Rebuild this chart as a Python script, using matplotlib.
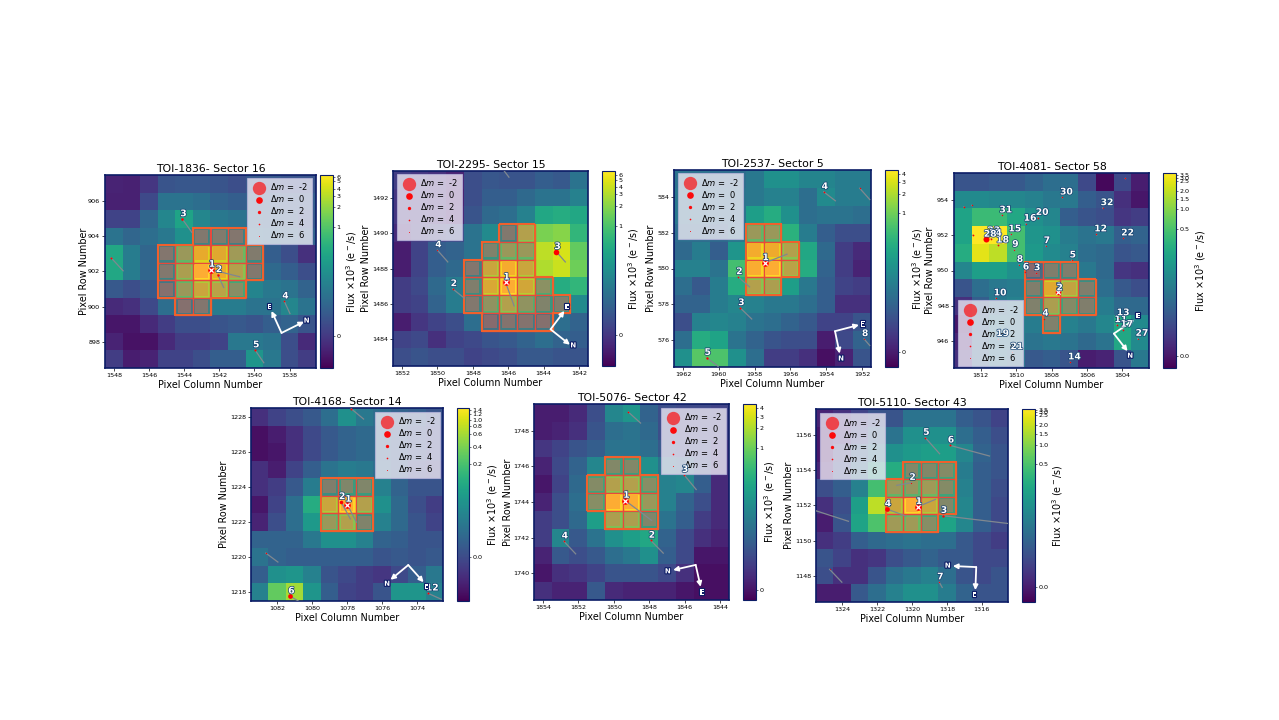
"""Seven TESS target pixel maps (tpfplotter style) on one slide."""
import matplotlib
matplotlib.use("Agg")
import matplotlib.patheffects as pe
import matplotlib.pyplot as plt
import numpy as np
from matplotlib.patches import Rectangle
from matplotlib.ticker import MultipleLocator

WIDTH, HEIGHT = 1279, 720
NAVY = "#0c1c66"
APERTURE_EDGE = "#f0602c"
APERTURE_GRID = "#e8483c"

# Pixel values are positions on the stretched colour scale (0-100), top row
# first, left column first. Ticks say where each flux label sits on that scale.
FLUX_1836 = [
    [10, 9, 16, 26, 27, 27, 26, 24, 28, 28, 26, 26],
    [9, 9, 22, 38, 38, 36, 32, 30, 32, 32, 30, 30],
    [20, 20, 33, 46, 58, 46, 40, 38, 36, 34, 32, 28],
    [38, 33, 36, 40, 50, 48, 50, 46, 40, 38, 36, 32],
    [60, 42, 33, 46, 72, 94, 92, 74, 50, 30, 24, 14],
    [60, 42, 33, 48, 78, 100, 96, 80, 48, 34, 30, 24],
    [28, 24, 28, 42, 72, 86, 82, 64, 45, 40, 38, 32],
    [12, 14, 22, 36, 42, 46, 42, 42, 38, 38, 46, 38],
    [6, 6, 12, 18, 24, 24, 26, 28, 26, 30, 32, 26],
    [10, 5, 5, 12, 18, 18, 20, 40, 40, 38, 24, 12],
    [18, 8, 10, 20, 20, 24, 30, 30, 52, 40, 24, 18],
]
FLUX_2295 = [
    [18, 16, 14, 10, 24, 27, 26, 26, 30, 28, 38],
    [16, 16, 14, 8, 24, 30, 30, 34, 38, 38, 44],
    [16, 16, 14, 10, 26, 34, 36, 44, 60, 62, 60],
    [12, 18, 22, 24, 38, 48, 48, 80, 80, 82, 66],
    [8, 20, 30, 32, 38, 55, 72, 72, 90, 94, 76],
    [8, 20, 30, 34, 46, 86, 98, 86, 88, 92, 78],
    [18, 22, 34, 42, 52, 90, 100, 88, 66, 62, 66],
    [18, 20, 32, 42, 48, 68, 80, 68, 56, 52, 48],
    [8, 16, 20, 24, 36, 38, 44, 44, 42, 36, 32],
    [20, 22, 14, 20, 22, 26, 28, 32, 36, 32, 30],
    [24, 26, 24, 24, 20, 22, 24, 28, 28, 26, 26],
]
FLUX_2537 = [
    [38, 38, 36, 36, 40, 50, 50, 45, 45, 42, 42],
    [40, 40, 38, 38, 40, 44, 44, 36, 48, 42, 42],
    [40, 40, 38, 38, 56, 62, 50, 36, 38, 38, 36],
    [36, 36, 34, 40, 72, 72, 64, 42, 30, 24, 24],
    [34, 42, 30, 52, 97, 96, 80, 60, 34, 18, 12],
    [44, 44, 38, 70, 99, 100, 82, 62, 32, 18, 10],
    [36, 28, 42, 62, 80, 78, 56, 40, 30, 20, 18],
    [32, 32, 42, 46, 44, 40, 40, 36, 30, 14, 14],
    [24, 44, 46, 44, 38, 36, 32, 28, 20, 20, 26],
    [36, 62, 58, 38, 32, 26, 24, 24, 8, 22, 32],
    [50, 74, 72, 50, 36, 18, 18, 14, 4, 10, 26],
]
FLUX_4081 = [
    [26, 26, 28, 28, 32, 36, 36, 22, 2, 22, 8],
    [48, 48, 46, 46, 44, 40, 40, 30, 26, 14, 6],
    [58, 68, 68, 60, 50, 46, 30, 26, 24, 16, 18],
    [58, 100, 100, 70, 52, 50, 42, 38, 40, 30, 32],
    [62, 96, 90, 70, 54, 48, 44, 36, 34, 26, 28],
    [46, 56, 56, 50, 36, 52, 52, 40, 34, 16, 14],
    [26, 36, 40, 42, 52, 92, 84, 52, 36, 28, 24],
    [14, 30, 40, 44, 54, 78, 62, 52, 42, 34, 34],
    [6, 34, 46, 44, 42, 54, 44, 40, 46, 60, 48],
    [10, 36, 44, 44, 38, 40, 38, 34, 38, 60, 48],
    [14, 36, 44, 40, 28, 30, 26, 8, 10, 26, 40],
]
FLUX_4168 = [
    [14, 20, 24, 28, 36, 50, 40, 36, 32, 30, 26],
    [4, 8, 14, 22, 28, 32, 34, 34, 30, 28, 24],
    [4, 6, 14, 22, 28, 32, 34, 34, 30, 28, 24],
    [14, 8, 20, 30, 38, 42, 40, 36, 30, 24, 22],
    [14, 18, 28, 42, 52, 58, 58, 44, 32, 26, 26],
    [6, 20, 36, 62, 86, 100, 80, 50, 34, 24, 18],
    [10, 24, 36, 54, 72, 80, 56, 44, 34, 26, 20],
    [32, 32, 32, 40, 50, 50, 44, 32, 30, 26, 26],
    [38, 32, 30, 30, 30, 30, 30, 26, 28, 26, 28],
    [30, 50, 52, 44, 26, 22, 18, 16, 22, 30, 40],
    [44, 76, 86, 52, 30, 20, 18, 26, 52, 52, 44],
]
FLUX_5076 = [
    [8, 8, 12, 24, 46, 52, 32, 24, 22, 22, 20],
    [8, 10, 14, 26, 36, 38, 34, 24, 22, 22, 20],
    [16, 20, 26, 30, 38, 38, 36, 28, 24, 24, 16],
    [10, 22, 32, 46, 60, 60, 50, 38, 34, 26, 16],
    [6, 20, 34, 62, 80, 80, 64, 44, 46, 30, 12],
    [10, 24, 36, 64, 100, 100, 72, 44, 32, 24, 12],
    [18, 24, 34, 56, 78, 78, 58, 38, 30, 18, 12],
    [18, 46, 28, 38, 50, 56, 60, 32, 22, 14, 10],
    [10, 28, 24, 28, 36, 40, 50, 30, 22, 6, 6],
    [6, 14, 16, 20, 26, 26, 26, 22, 14, 4, 4],
    [14, 10, 10, 28, 12, 10, 10, 10, 6, 4, 4],
]
FLUX_5110 = [
    [10, 14, 20, 26, 26, 38, 38, 38, 30, 26, 20],
    [6, 14, 24, 34, 38, 50, 50, 50, 36, 30, 24],
    [6, 22, 34, 44, 50, 54, 56, 56, 46, 32, 26],
    [10, 26, 40, 60, 62, 60, 60, 62, 42, 30, 26],
    [24, 30, 44, 70, 72, 70, 74, 62, 44, 30, 24],
    [14, 24, 56, 90, 86, 100, 86, 60, 46, 30, 22],
    [8, 26, 58, 72, 74, 74, 64, 58, 46, 30, 22],
    [14, 18, 30, 34, 36, 38, 36, 36, 28, 22, 18],
    [26, 20, 14, 16, 24, 28, 32, 28, 28, 22, 22],
    [24, 14, 14, 26, 36, 40, 44, 36, 26, 22, 26],
    [8, 8, 28, 36, 44, 50, 50, 42, 32, 26, 26],
]

# aperture: row -> (first column, last column)
APER_1836 = {904: (1543, 1541), 903: (1545, 1540), 902: (1545, 1540), 901: (1545, 1541), 900: (1544, 1543)}
APER_2295 = {1490: (1846, 1845), 1489: (1847, 1845), 1488: (1848, 1845),
             1487: (1848, 1844), 1486: (1848, 1843), 1485: (1847, 1844)}
APER_2537 = {582: (1958, 1957), 581: (1958, 1956), 580: (1958, 1956), 579: (1958, 1957)}
APER_4081 = {950: (1809, 1807), 949: (1809, 1806), 948: (1809, 1806), 947: (1808, 1808)}
APER_4168 = {1224: (1079, 1077), 1223: (1079, 1077), 1222: (1079, 1077)}
APER_5076 = {1746: (1850, 1849), 1745: (1851, 1848), 1744: (1851, 1848), 1743: (1850, 1848)}
APER_5110 = {1154: (1320, 1318), 1153: (1321, 1318), 1152: (1321, 1318), 1151: (1321, 1319)}

# stars: label, column, row, delta mag, end of motion line (column, row)
STARS_1836 = [
    ("1", 1542.48, 902.11, 0, 1540.84, 901.7),
    ("2", 1542.08, 901.81, 3, 1541.75, 901.09),
    ("3", 1544.1, 904.99, 2.7, 1543.56, 904.23),
    ("", 1548.15, 902.78, 3.5, 1547.47, 902.04),
    ("4", 1538.3, 900.3, 4, 1537.98, 899.6),
    ("5", 1539.96, 897.52, 3.3, 1539.47, 896.8),
]
STARS_2295 = [
    ("1", 1846.15, 1487.22, 0, 1845.67, 1485.89),
    ("2", 1849.13, 1486.85, 4, 1848.48, 1486.33),
    ("3", 1843.28, 1488.94, 0.5, 1842.78, 1488.37),
    ("4", 1850.0, 1489.04, 5, 1849.41, 1488.37),
    ("", 1846.3, 1493.6, 5, 1845.96, 1493.15),
]
STARS_2537 = [
    ("1", 1957.44, 580.31, 0, 1956.19, 580.8),
    ("2", 1958.91, 579.53, 4, 1958.28, 578.97),
    ("3", 1958.8, 577.8, 3.5, 1958.16, 577.18),
    ("4", 1954.14, 584.28, 4, 1953.49, 583.78),
    ("5", 1960.68, 575.02, 3, 1960.04, 574.54),
    ("8", 1951.89, 576.07, 5, 1951.57, 575.7),
    ("", 1952.13, 584.48, 4.5, 1951.57, 583.85),
]
STARS_4081 = [
    ("1", 1807.63, 948.79, 0.5, 1807.6, 948.7),
    ("2", 1807.6, 948.72, 4, 1807.6, 948.7),
    ("3", 1808.87, 949.86, 4.5, 1808.85, 949.8),
    ("4", 1808.4, 947.29, 4.5, 1808.4, 947.25),
    ("5", 1806.86, 950.58, 5, 1806.85, 950.55),
    ("6", 1809.5, 949.9, 4, 1809.5, 949.85),
    ("7", 1808.32, 951.39, 5, 1808.3, 951.35),
    ("8", 1809.84, 950.33, 5, 1809.82, 950.3),
    ("9", 1810.1, 951.18, 5, 1810.08, 951.15),
    ("10", 1811.14, 948.44, 4.5, 1811.12, 948.4),
    ("11", 1804.33, 946.93, 4, 1804.3, 946.9),
    ("12", 1805.47, 952.05, 4.5, 1805.45, 952.0),
    ("13", 1804.2, 947.32, 5, 1804.2, 947.3),
    ("14", 1806.95, 944.83, 4.5, 1806.93, 944.8),
    ("15", 1810.31, 952.05, 5, 1810.3, 952.0),
    ("16", 1809.45, 952.65, 5, 1809.43, 952.6),
    ("17", 1803.99, 946.67, 4, 1803.97, 946.65),
    ("18", 1811.0, 951.42, 4, 1810.98, 951.4),
    ("19", 1811.0, 946.14, 5, 1810.98, 946.1),
    ("20", 1808.77, 952.98, 4, 1808.75, 952.95),
    ("21", 1810.2, 945.4, 6, 1810.18, 945.38),
    ("22", 1803.95, 951.82, 4.5, 1803.93, 951.8),
    ("23", 1811.5, 951.95, 4, 1811.48, 951.93),
    ("24", 1811.4, 951.8, 4, 1811.38, 951.78),
    ("27", 1803.14, 946.16, 5, 1803.12, 946.12),
    ("28", 1811.7, 951.75, 0.3, 1811.68, 951.72),
    ("30", 1807.4, 954.13, 4.5, 1807.38, 954.1),
    ("31", 1810.82, 953.12, 4.5, 1810.8, 953.1),
    ("32", 1805.11, 953.53, 5, 1805.09, 953.5),
    ("", 1812.94, 953.59, 4, 1812.92, 953.57),
    ("", 1812.5, 953.68, 4.5, 1812.48, 953.66),
    ("", 1812.43, 951.99, 4, 1812.41, 951.97),
    ("", 1803.84, 955.2, 4.5, 1803.82, 955.18),
]
STARS_4168 = [
    ("1", 1077.98, 1223.0, 0, 1077.46, 1221.99),
    ("2", 1078.34, 1223.15, 1.8, 1077.81, 1222.18),
    ("6", 1081.25, 1217.77, 1, 1080.79, 1217.5),
    ("12", 1073.36, 1217.94, 3.5, 1072.6, 1217.6),
    ("", 1082.65, 1220.23, 4.5, 1081.96, 1219.72),
    ("", 1077.76, 1228.46, 3.5, 1077.05, 1227.87),
]
STARS_5076 = [
    ("1", 1849.35, 1744.08, 0, 1847.87, 1742.97),
    ("2", 1847.91, 1741.84, 3.5, 1847.21, 1741.13),
    ("3", 1846.04, 1745.53, 4, 1845.35, 1744.7),
    ("4", 1852.82, 1741.8, 4, 1852.15, 1741.09),
    ("", 1849.18, 1749.05, 4, 1848.49, 1748.43),
]
STARS_5110 = [
    ("1", 1319.67, 1151.93, 0, 1318.65, 1152.35),
    ("2", 1320.03, 1153.3, 5, 1320.87, 1153.15),
    ("3", 1318.23, 1151.42, 3, 1314.38, 1150.96),
    ("4", 1321.44, 1151.8, 1, 1320.36, 1151.4),
    ("5", 1319.24, 1155.87, 4, 1318.42, 1154.95),
    ("6", 1317.83, 1155.43, 3.5, 1315.56, 1154.82),
    ("7", 1318.44, 1147.63, 5, 1318.27, 1147.33),
    ("", 1324.72, 1148.36, 5, 1324.02, 1147.63),
    ("", 1325.6, 1151.73, 4, 1323.64, 1151.1),
]

# compass: origin, E tip, E label, N tip, N label
COMPASS_1836 = [(1538.46, 898.5), (1539.03, 899.75), (1539.14, 899.98), (1537.18, 899.14), (1537.03, 899.2)]
COMPASS_2295 = [(1843.61, 1484.57), (1842.83, 1485.61), (1842.68, 1485.85), (1842.52, 1483.7), (1842.33, 1483.66)]
COMPASS_2537 = [(1953.51, 576.5), (1952.17, 576.85), (1951.96, 576.87), (1953.25, 575.25), (1953.17, 574.97)]
COMPASS_4081 = [(1804.48, 946.44), (1803.33, 947.23), (1803.12, 947.42), (1803.71, 945.45), (1803.56, 945.19)]
COMPASS_4168 = [(1074.49, 1219.55), (1073.61, 1218.57), (1073.46, 1218.32), (1075.51, 1218.71), (1075.7, 1218.48)]
COMPASS_5076 = [(1845.38, 1740.47), (1845.1, 1739.24), (1845.01, 1738.92), (1846.65, 1740.18), (1846.95, 1740.11)]
COMPASS_5110 = [(1316.32, 1148.49), (1316.37, 1147.18), (1316.43, 1146.92), (1317.66, 1148.55), (1317.95, 1148.57)]

TICKS_1836 = ([6, 5, 4, 3, 2, 1, 0], [99, 97, 93, 89, 83.5, 73, 16.8])
TICKS_2295 = ([6, 5, 4, 3, 2, 1, 0], [98, 95.5, 92, 88, 82, 72, 15.9])
TICKS_2537 = ([4, 3, 2, 1, 0], [98, 94, 88, 78, 7.5])
TICKS_4081 = (["3.5", "3.0", "2.5", "2.0", "1.5", "1.0", "0.5", "0.0"], [99, 97.5, 96, 91, 86.8, 81.4, 71.3, 6])
TICKS_4168 = (["1.4", "1.2", "1.0", "0.8", "0.6", "0.4", "0.2", "0.0"], [99, 97, 94, 90.5, 86.5, 80, 71, 23])
TICKS_5076 = ([4, 3, 2, 1, 0], [97.8, 93.5, 87.7, 77.7, 5])
TICKS_5110 = (["3.5", "3.0", "2.5", "2.0", "1.5", "1.0", "0.5", "0.0"], [99.7, 98.5, 97, 91.5, 87, 81.5, 71.6, 8])

PANELS = [
    dict(name="TOI-1836- Sector 16", flux=FLUX_1836, aper=APER_1836, stars=STARS_1836, compass=COMPASS_1836,
         ticks=TICKS_1836, col=1548, row=907, ax=(105, 316, 175, 368), cb=(320, 333),
         leg=(247, 178), ylab=84, cblab=352),
    dict(name="TOI-2295- Sector 15", flux=FLUX_2295, aper=APER_2295, stars=STARS_2295, compass=COMPASS_2295,
         ticks=TICKS_2295, col=1852, row=1493, ax=(393, 588, 171, 366), cb=(602, 615),
         leg=(397, 174), ylab=366, cblab=634),
    dict(name="TOI-2537- Sector 5", flux=FLUX_2537, aper=APER_2537, stars=STARS_2537, compass=COMPASS_2537,
         ticks=TICKS_2537, col=1962, row=585, ax=(674, 871, 170, 367), cb=(885, 898),
         leg=(678, 173), ylab=651, cblab=918),
    dict(name="TOI-4081- Sector 58", flux=FLUX_4081, aper=APER_4081, stars=STARS_4081, compass=COMPASS_4081,
         ticks=TICKS_4081, col=1813, row=955, ax=(954, 1149, 173, 368), cb=(1163, 1176),
         leg=(958, 300), ylab=930, cblab=1201),
    dict(name="TOI-4168- Sector 14", flux=FLUX_4168, aper=APER_4168, stars=STARS_4168, compass=COMPASS_4168,
         ticks=TICKS_4168, col=1083, row=1228, ax=(251, 443, 408, 601), cb=(457, 469),
         leg=(375, 412), ylab=224, cblab=493),
    dict(name="TOI-5076- Sector 42", flux=FLUX_5076, aper=APER_5076, stars=STARS_5076, compass=COMPASS_5076,
         ticks=TICKS_5076, col=1854, row=1749, ax=(534, 729, 404, 600), cb=(743, 756),
         leg=(661, 408), ylab=508, cblab=770),
    dict(name="TOI-5110- Sector 43", flux=FLUX_5110, aper=APER_5110, stars=STARS_5110, compass=COMPASS_5110,
         ticks=TICKS_5110, col=1325, row=1157, ax=(816, 1008, 409, 602), cb=(1022, 1035),
         leg=(820, 413), ylab=789, cblab=1058),
]
LEGEND_DM = [-2, 0, 2, 4, 6]


def frac_box(left, right, top, bottom):
    """Pixel box (origin top-left) to figure-fraction [l, b, w, h]."""
    return [left / WIDTH, 1 - bottom / HEIGHT, (right - left) / WIDTH, (bottom - top) / HEIGHT]


def marker_size(dm):
    return 23 * 0.5 ** dm


def white_text(ax, x, y, label, size, halo=1.6):
    ax.text(x, y, label, color="white", fontsize=size, fontweight="bold", ha="center", va="center", zorder=7,
            path_effects=[pe.withStroke(linewidth=halo, foreground=NAVY)])


def draw_aperture(ax, aper):
    cells = {(col, row) for row, (first, last) in aper.items() for col in range(last, first + 1)}
    for col, row in cells:
        ax.add_patch(Rectangle((col - 0.5, row - 0.5), 1, 1, color="tomato", alpha=0.12, lw=0, zorder=2))
        ax.add_patch(Rectangle((col - 0.37, row - 0.37), 0.74, 0.74, color="tomato", alpha=0.36, lw=0, zorder=2))
        ax.add_patch(Rectangle((col - 0.5, row - 0.5), 1, 1, fill=False, ec=APERTURE_GRID, lw=0.9, zorder=3))
    # heavier orange line where the aperture ends
    for col, row in cells:
        for dc, dr in ((1, 0), (-1, 0), (0, 1), (0, -1)):
            if (col + dc, row + dr) in cells:
                continue
            xs = [col + dc / 2] * 2 if dc else [col - 0.53, col + 0.53]
            ys = [row + dr / 2] * 2 if dr else [row - 0.53, row + 0.53]
            ax.plot(xs, ys, color=APERTURE_EDGE, lw=1.5, solid_capstyle="butt", zorder=3.2)


def draw_stars(ax, stars):
    for label, col, row, dm, end_col, end_row in stars:
        ax.plot([col, end_col], [row, end_row], color="#808890", lw=0.9, zorder=3.5)
        ax.scatter([col], [row], s=marker_size(dm), color="red", lw=0, zorder=4)
        if label:
            ax.annotate(label, (col, row), xytext=(-1.5, 3.8), textcoords="offset points", color="white",
                        fontsize=6.6, fontweight="bold", ha="left", va="center", zorder=7, clip_on=True,
                        path_effects=[pe.withStroke(linewidth=1, foreground="#14406e")])
    ax.scatter([stars[0][1]], [stars[0][2]], marker="x", s=9, color="white", lw=0.9, zorder=5)


def draw_compass(ax, compass):
    origin, e_tip, e_lab, n_tip, n_lab = compass
    for tip in (e_tip, n_tip):
        ax.annotate("", xy=tip, xytext=origin, zorder=6,
                    arrowprops=dict(arrowstyle="-|>", color="white", lw=1.3, mutation_scale=7, shrinkA=0, shrinkB=0))
    white_text(ax, e_lab[0], e_lab[1], "E", 5, halo=1.6)
    white_text(ax, n_lab[0], n_lab[1], "N", 5, halo=1.6)


def draw_legend(ax, fig, pos):
    handles = [ax.scatter([], [], s=marker_size(dm), color="red", alpha=0.65 if dm < 0 else 0.95, lw=0)
               for dm in LEGEND_DM]
    labels = [f"$\\Delta m$ =  {dm}" for dm in LEGEND_DM]
    leg = ax.legend(handles, labels, loc="upper left", bbox_to_anchor=(pos[0] / WIDTH, 1 - pos[1] / HEIGHT),
                    bbox_transform=fig.transFigure, borderaxespad=0, fontsize=6, labelspacing=0.12,
                    handletextpad=0.3, borderpad=0.42, handlelength=2.0, framealpha=0.78, facecolor="#f2eef6",
                    edgecolor="#b9b6dc", fancybox=False)
    leg.get_frame().set_linewidth(0.8)
    leg.set_zorder(5)


def draw_panel(fig, p):
    left, right, top, bottom = p["ax"]
    ax = fig.add_axes(frac_box(left, right, top, bottom))
    flux = np.array(p["flux"], dtype=float)
    nrow, ncol = flux.shape
    extent = (p["col"] + 0.5, p["col"] - ncol + 0.5, p["row"] - nrow + 0.5, p["row"] + 0.5)
    im = ax.imshow(flux, cmap="viridis", vmin=0, vmax=100, extent=extent, origin="upper",
                   interpolation="nearest", aspect="auto", zorder=1)

    draw_aperture(ax, p["aper"])
    draw_stars(ax, p["stars"])
    draw_compass(ax, p["compass"])
    draw_legend(ax, fig, p["leg"])
    ax.set_xlim(extent[0], extent[1])
    ax.set_ylim(extent[2], extent[3])

    ax.xaxis.set_major_locator(MultipleLocator(2))
    ax.yaxis.set_major_locator(MultipleLocator(2))
    ax.tick_params(labelsize=4.6, length=2, width=0.5, pad=1.5)
    for spine in ax.spines.values():
        spine.set_color(NAVY)
        spine.set_linewidth(1.2)
    ax.set_title(p["name"], fontsize=7.8, pad=2.5)
    ax.set_xlabel("Pixel Column Number", fontsize=6.9, labelpad=1.5)
    fig.text(p["ylab"] / WIDTH, 1 - (top + bottom) / 2 / HEIGHT, "Pixel Row Number", fontsize=6.9,
             rotation=90, ha="center", va="center")

    cax = fig.add_axes(frac_box(p["cb"][0], p["cb"][1], top, bottom))
    cb = fig.colorbar(im, cax=cax)
    labels, levels = p["ticks"]
    cb.set_ticks(levels)
    cb.set_ticklabels([str(t) for t in labels])
    cb.ax.tick_params(labelsize=4.6, length=1.5, width=0.4, pad=1)
    cb.outline.set_edgecolor(NAVY)
    cb.outline.set_linewidth(0.8)
    fig.text(p["cblab"] / WIDTH, 1 - (top + bottom) / 2 / HEIGHT, "Flux $\\times 10^3$ (e$^-$/s)", fontsize=6.9,
             rotation=90, ha="center", va="center")


if __name__ == "__main__":
    fig = plt.figure(figsize=(WIDTH / 100, HEIGHT / 100), dpi=100)
    for panel in PANELS:
        draw_panel(fig, panel)
    fig.savefig("out.png", dpi=100)
